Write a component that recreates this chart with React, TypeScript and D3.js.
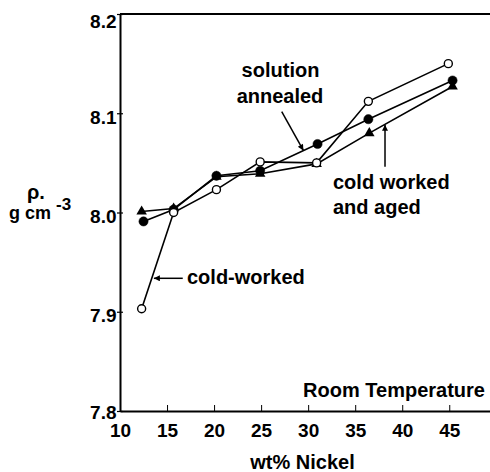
import React, { useEffect, useRef } from 'react';
import * as d3 from 'd3';

// density (g cm^-3) vs wt% nickel
const coldWorkedNi = [12.3, 15.7, 20.25, 24.9, 30.9, 36.4, 44.9];
const coldWorked = [7.903, 8.0, 8.023, 8.051, 8.05, 8.112, 8.15];
const annealedNi = [12.5, 15.7, 20.25, 24.9, 31.0, 36.4, 45.35];
const annealed = [7.991, 8.003, 8.037, 8.042, 8.069, 8.094, 8.133];
const agedNi = [12.3, 15.7, 20.25, 24.9, 30.9, 36.5, 45.35];
const aged = [8.001, 8.004, 8.036, 8.039, 8.049, 8.08, 8.127];

const xTicks = [10, 15, 20, 25, 30, 35, 40, 45];
const yTicks = [7.8, 7.9, 8.0, 8.1, 8.2];

const FONT = '"Liberation Sans", Arial, Helvetica, sans-serif';

const DensityChart = () => {
    const ref = useRef<SVGSVGElement>(null);

    useEffect(() => {
        if (!ref.current) return;
        const svg = d3.select(ref.current);
        svg.selectAll('*').remove();

        const x = d3.scaleLinear().domain([10, 49.33]).range([120, 490]);
        const y = d3.scaleLinear().domain([7.8, 8.2]).range([411, 14]);

        svg.append('defs').append('marker')
            .attr('id', 'arrow')
            .attr('viewBox', '0 0 10 10')
            .attr('refX', 10).attr('refY', 5)
            .attr('markerWidth', 9).attr('markerHeight', 6)
            .attr('markerUnits', 'userSpaceOnUse')
            .attr('orient', 'auto')
            .append('path').attr('d', 'M0,0L10,5L0,10z').attr('fill', '#000');

        // x axis, ticks pointing inward
        const gx = svg.append('g')
            .attr('transform', `translate(0,${y(7.8)})`)
            .call(d3.axisBottom(x).tickValues(xTicks).tickFormat(d3.format('d'))
                .tickSizeInner(-6).tickSizeOuter(0).tickPadding(13));
        gx.select('.domain').attr('stroke-width', 2);
        gx.selectAll('.tick line').attr('stroke-width', 1);
        gx.selectAll('.tick text')
            .attr('font-family', FONT).attr('font-weight', 'bold').attr('font-size', 19);

        // y axis, ticks crossing the line
        const gy = svg.append('g')
            .attr('transform', `translate(${x(10)},0)`)
            .call(d3.axisLeft(y).tickValues(yTicks).tickFormat(d3.format('.1f'))
                .tickSizeInner(3).tickSizeOuter(0).tickPadding(0.5));
        gy.select('.domain').attr('stroke-width', 2);
        gy.selectAll('.tick line').attr('x2', -3).attr('x1', 3).attr('stroke-width', 1.2);
        gy.selectAll('.tick text')
            .attr('font-family', FONT).attr('font-weight', 'bold').attr('font-size', 19)
            .attr('dy', (d: any) => d === 8.2 ? '0.7em' : d === 7.8 ? '0.38em' : '0.52em');

        // top frame line
        svg.append('line')
            .attr('x1', x(10)).attr('x2', x(49.33))
            .attr('y1', y(8.2)).attr('y2', y(8.2))
            .attr('stroke', '#000').attr('stroke-width', 2);

        const series = [
            { ni: agedNi, rho: aged, kind: 'tri' },
            { ni: annealedNi, rho: annealed, kind: 'dot' },
            { ni: coldWorkedNi, rho: coldWorked, kind: 'open' },
        ];

        const line = d3.line<[number, number]>().x(d => x(d[0])).y(d => y(d[1]));
        series.forEach(s => {
            const pts = s.ni.map((n, i) => [n, s.rho[i]] as [number, number]);
            svg.append('path')
                .attr('d', line(pts))
                .attr('fill', 'none').attr('stroke', '#000').attr('stroke-width', 1.6);
        });

        series.forEach(s => {
            const pts = s.ni.map((n, i) => [n, s.rho[i]] as [number, number]);
            const g = svg.append('g');
            if (s.kind === 'tri') {
                g.selectAll('path').data(pts).enter().append('path')
                    .attr('d', d3.symbol(d3.symbolTriangle, 48)())
                    .attr('transform', d => `translate(${x(d[0])},${y(d[1])})`)
                    .attr('fill', '#000');
            } else {
                g.selectAll('circle').data(pts).enter().append('circle')
                    .attr('cx', d => x(d[0])).attr('cy', d => y(d[1]))
                    .attr('r', s.kind === 'dot' ? 4.6 : 4)
                    .attr('fill', s.kind === 'dot' ? '#000' : '#fff')
                    .attr('stroke', '#000').attr('stroke-width', s.kind === 'dot' ? 0.5 : 1.4);
            }
        });

        // annotation arrows (data coordinates)
        const arrows = [
            [[27.19, 8.1016], [29.49, 8.0625]],
            [[38.17, 8.0461], [38.17, 8.0885]],
            [[16.67, 7.9337], [13.6, 7.9337]],
        ];
        arrows.forEach(a => {
            svg.append('line')
                .attr('x1', x(a[0][0])).attr('y1', y(a[0][1]))
                .attr('x2', x(a[1][0])).attr('y2', y(a[1][1]))
                .attr('stroke', '#000').attr('stroke-width', 1.5)
                .attr('marker-end', 'url(#arrow)');
        });

        const label = (t: string, px: number, py: number, anchor = 'start', size = 20) =>
            svg.append('text')
                .attr('x', px).attr('y', py)
                .attr('text-anchor', anchor)
                .attr('font-family', FONT).attr('font-weight', 'bold').attr('font-size', size)
                .text(t);

        label('solution', 280.5, 77, 'middle');
        label('annealed', 280, 103, 'middle');
        label('cold worked', 333, 189);
        label('and aged', 333, 214);
        label('cold-worked', 187, 284);
        label('Room Temperature', 485, 397, 'end');
        label('wt% Nickel', 302.5, 469, 'middle');

        // y axis title
        label('ρ.', 27, 199, 'start', 20);
        label('g cm', 9, 219, 'start', 18);
        label('-3', 56, 210, 'start', 17);
    }, []);

    return (
        <svg ref={ref} width={490} height={472}
            style={{ position: 'absolute', left: 0, top: 0, display: 'block', background: '#fff' }} />
    );
};

export default function App() {
    return <DensityChart />;
}
